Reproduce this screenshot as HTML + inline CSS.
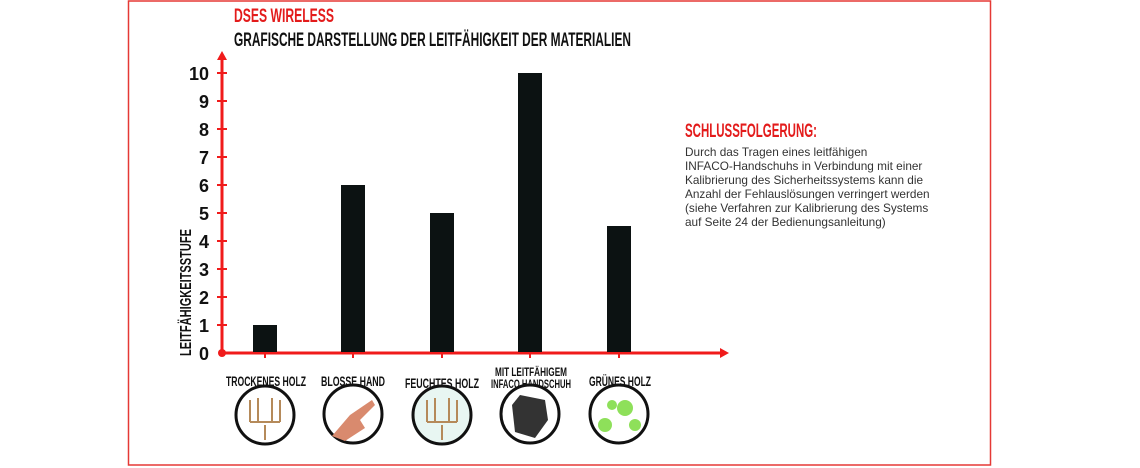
<!DOCTYPE html>
<html><head><meta charset="utf-8"><style>
html,body{margin:0;padding:0;background:#fff;width:1140px;height:468px;overflow:hidden}
svg{display:block}
.c{font-family:"Liberation Sans Narrow","Liberation Sans",sans-serif;font-weight:bold}
.b{font-family:"Liberation Sans",sans-serif}
</style></head><body>
<svg width="1140" height="468" viewBox="0 0 1140 468" xmlns="http://www.w3.org/2000/svg">
<rect x="128.5" y="1" width="862" height="464" fill="none" stroke="#e53935" stroke-width="1.5"/>
<text class="c" x="234" y="22" font-size="19" fill="#e31b1b" textLength="100" lengthAdjust="spacingAndGlyphs">DSES WIRELESS</text>
<text class="c" x="234" y="46" font-size="19" fill="#111" textLength="397" lengthAdjust="spacingAndGlyphs">GRAFISCHE DARSTELLUNG DER LEITFÄHIGKEIT DER MATERIALIEN</text>
<g stroke="#f01b1b" stroke-width="3" fill="#f01b1b">
<line x1="222" y1="58" x2="222" y2="353"/>
<line x1="222" y1="353" x2="722" y2="353"/>
<polygon points="222,51 217,60 227,60" stroke="none"/>
<polygon points="729,353 720,348 720,358" stroke="none"/>
<circle cx="222" cy="353" r="4" stroke="none"/>
<g stroke-width="2">
<line x1="217" y1="73" x2="227" y2="73"/><line x1="217" y1="101" x2="227" y2="101"/>
<line x1="217" y1="129" x2="227" y2="129"/><line x1="217" y1="157" x2="227" y2="157"/>
<line x1="217" y1="185" x2="227" y2="185"/><line x1="217" y1="213" x2="227" y2="213"/>
<line x1="217" y1="241" x2="227" y2="241"/><line x1="217" y1="269" x2="227" y2="269"/>
<line x1="217" y1="297" x2="227" y2="297"/><line x1="217" y1="325" x2="227" y2="325"/>
<line x1="265" y1="348" x2="265" y2="358"/><line x1="353" y1="348" x2="353" y2="358"/>
<line x1="442" y1="348" x2="442" y2="358"/><line x1="530" y1="348" x2="530" y2="358"/>
<line x1="619" y1="348" x2="619" y2="358"/>
</g></g>
<g class="c" font-size="18" fill="#111" text-anchor="end">
<text x="209" y="80">10</text><text x="209" y="108">9</text><text x="209" y="136">8</text>
<text x="209" y="164">7</text><text x="209" y="192">6</text><text x="209" y="220">5</text>
<text x="209" y="248">4</text><text x="209" y="276">3</text><text x="209" y="304">2</text>
<text x="209" y="332">1</text><text x="209" y="360">0</text>
</g>
<text class="c" transform="translate(191,356) rotate(-90)" font-size="16" fill="#111" textLength="127" lengthAdjust="spacingAndGlyphs">LEITFÄHIGKEITSSTUFE</text>
<g fill="#0c1212">
<rect x="253" y="325" width="24" height="27"/>
<rect x="341" y="185" width="24" height="167"/>
<rect x="430" y="213" width="24" height="139"/>
<rect x="518" y="73" width="24" height="279"/>
<rect x="607" y="226" width="24" height="126"/>
</g>
<g class="c" font-size="13.5" fill="#111" text-anchor="middle">
<text x="266" y="386" textLength="80" lengthAdjust="spacingAndGlyphs">TROCKENES HOLZ</text>
<text x="353" y="386" textLength="64" lengthAdjust="spacingAndGlyphs">BLOSSE HAND</text>
<text x="442" y="388" textLength="74" lengthAdjust="spacingAndGlyphs">FEUCHTES HOLZ</text>
<text x="531" y="376" font-size="12" textLength="72" lengthAdjust="spacingAndGlyphs">MIT LEITFÄHIGEM</text>
<text x="531" y="388" font-size="12" textLength="80" lengthAdjust="spacingAndGlyphs">INFACO HANDSCHUH</text>
<text x="620" y="386" textLength="62" lengthAdjust="spacingAndGlyphs">GRÜNES HOLZ</text>
</g>
<g stroke="#111" stroke-width="3">
<circle cx="265" cy="415" r="29" fill="#fff"/>
<circle cx="353" cy="414" r="29" fill="#fff"/>
<circle cx="442" cy="415" r="29" fill="#e8f6f2"/>
<circle cx="530" cy="414" r="29" fill="#fff"/>
<circle cx="619" cy="414" r="29" fill="#fff"/>
</g>
<g stroke="#b58a5a" stroke-width="2" fill="none">
<path d="M265 440 V425 M250 422 H280 M250 422 V400 M258 422 V398 M272 422 V398 M280 422 V400"/>
<path d="M442 440 V425 M427 422 H457 M427 422 V400 M435 422 V398 M449 422 V398 M457 422 V400"/>
</g>
<path d="M332 436 L350 415 L372 400 L375 405 L360 420 L365 428 L345 441 Z" fill="#d98a6e"/>
<path d="M515 432 L512 405 L520 395 L545 400 L548 420 L535 438 Z" fill="#333"/>
<g fill="#8ee05a"><circle cx="605" cy="425" r="7"/><circle cx="625" cy="408" r="8"/><circle cx="635" cy="425" r="6"/><circle cx="612" cy="405" r="5"/></g>
<text class="c" x="685" y="137" font-size="19" fill="#e31b1b" textLength="132" lengthAdjust="spacingAndGlyphs">SCHLUSSFOLGERUNG:</text>
<g class="b" font-size="11.8" fill="#333">
<text x="685" y="156">Durch das Tragen eines leitfähigen</text>
<text x="685" y="170">INFACO-Handschuhs in Verbindung mit einer</text>
<text x="685" y="184">Kalibrierung des Sicherheitssystems kann die</text>
<text x="685" y="198">Anzahl der Fehlauslösungen verringert werden</text>
<text x="685" y="212">(siehe Verfahren zur Kalibrierung des Systems</text>
<text x="685" y="226">auf Seite 24 der Bedienungsanleitung)</text>
</g>
</svg>
</body></html>
